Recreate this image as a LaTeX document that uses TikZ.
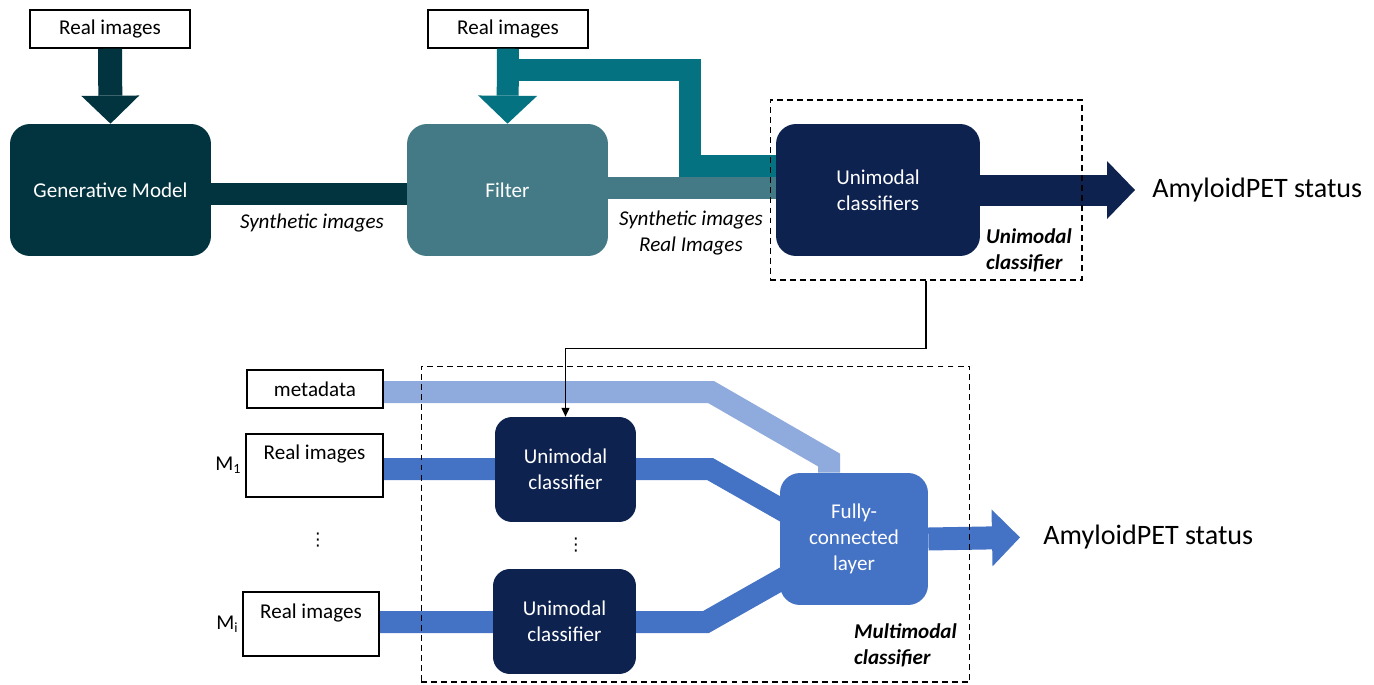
\documentclass[tikz,border=0pt]{standalone}
\usepackage{fontspec}
\setmainfont{Carlito}
\newfontfamily\symfont{DejaVu Sans}
\usetikzlibrary{arrows.meta,backgrounds}
\definecolor{gencol}{RGB}{2,52,64}
\definecolor{filtcol}{RGB}{67,122,134}
\definecolor{tealcol}{RGB}{4,114,128}
\definecolor{navycol}{RGB}{14,34,80}
\definecolor{fccol}{RGB}{68,114,196}
\definecolor{metacol}{RGB}{143,170,220}
\newcommand\labfont{\fontsize{12}{14.7}\selectfont}
\newcommand\bigfont{\fontsize{16}{19}\selectfont}
\tikzset{
  imgbox/.style={draw,line width=0.8pt,fill=white,minimum width=3.2cm,minimum height=0.76cm,inner sep=0pt},
  block/.style={rounded corners=0.4cm,text=white,align=center,minimum width=4.02cm,minimum height=2.64cm,inner sep=0pt},
  smallblock/.style={block,fill=navycol,rounded corners=0.34cm,minimum width=2.82cm,minimum height=2.1cm},
  dashbox/.style={draw,line width=0.6pt,dash pattern=on 3.4pt off 2.3pt,inner sep=0pt},
  bar/.style={line width=0.44cm,line join=miter},
  fat/.style={-{Triangle[width=#1,length=0.56cm,line width=0pt]}},
  vdot/.style={font=\symfont\fontsize{10}{12}\selectfont,inner sep=0pt},
}
\begin{document}
\begin{tikzpicture}[x=0.02cm,y=-0.02cm,font=\labfont]
  \useasboundingbox (0,0) rectangle (1374,684);
  \node[imgbox] (real1) at (110,29) {Real images};
  \node[block,fill=gencol] (gen) at (110.5,190) {Generative Model};
  \node[imgbox] (real2) at (508,29) {Real images};
  \node[block,fill=filtcol] (filter) at (507.5,190) {Filter};
  \node[block,fill=navycol,minimum width=4.08cm] (uni) at (878,190) {Unimodal\\classifiers};
  \node[anchor=west,inner sep=0pt,font=\bigfont] (out1) at (1152,190) {AmyloidPET status};
  \node[font=\labfont\itshape] (syn1) at (312,223) {Synthetic images};
  \node[font=\labfont\itshape,align=center] (syn2) at (691,233) {Synthetic images\\Real Images};
  \node[font=\labfont\bfseries\itshape,align=left,anchor=west] (unilab) at (980,250) {Unimodal\\classifier};
  \coordinate (fork) at (507,70);

  \node[imgbox,minimum width=2.72cm] (meta) at (315,389) {metadata};
  \node[imgbox,minimum width=2.74cm,minimum height=1.26cm,align=center] (m1) at (314.5,465.5) {Real images\\~};
  \node[imgbox,minimum width=2.72cm,minimum height=1.28cm,align=center] (mi) at (311,624) {Real images\\~};
  \node[anchor=east,inner sep=2pt] (m1lab) at (m1.west) {M\textsubscript{1}};
  \node[anchor=east,inner sep=2pt] (milab) at (mi.west) {M\textsubscript{i}};
  \node[vdot] (dots1) at (318,540) {⋮};
  \node[smallblock] (uni1) at (565.5,469.5) {Unimodal\\classifier};
  \node[smallblock,minimum width=2.86cm] (uni2) at (564.5,621.5) {Unimodal\\classifier};
  \node[vdot] (dots2) at (576,545) {⋮};
  \node[block,fill=fccol,minimum width=2.96cm] (fc) at (854,539) {Fully-\\connected\\layer};
  \node[anchor=west,inner sep=0pt,font=\bigfont] (out2) at (1043,537) {AmyloidPET status};
  \node[font=\labfont\bfseries\itshape,align=left,anchor=west] (multilab) at (848,645) {Multimodal\\classifier};

  \begin{scope}[on background layer]
    \draw[bar,gencol] ([yshift=-0.08cm]gen.east) -- ([yshift=-0.08cm]filter.west);
    \draw[bar,filtcol] ([yshift=0.04cm]filter.east) -- ([yshift=0.04cm]uni.west);
    \draw[bar,tealcol] (fork) -| (690,166) -- (uni.west |- 0,166);
    \draw[bar,metacol] (meta.east |- 0,392) -- (711,392) -- (829,460) -- (fc.north -| 829,0);
    \draw[bar,fccol] (m1.east |- 0,469) -- (710,469) -- ([xshift=0.4cm,yshift=0.38cm]fc.west);
    \draw[bar,fccol] (mi.east |- 0,622) -- (706,622) -- ([xshift=0.4cm,yshift=-0.6cm]fc.west);
  \end{scope}

  \draw[fat=1.16cm,line width=0.48cm,gencol] (real1.south) -- (gen.north);
  \draw[fat=1.18cm,line width=0.44cm,tealcol] (real2.south) -- (filter.north);
  \draw[fat=1.16cm,line width=0.62cm,navycol,shorten >=0.34cm] (uni.east) -- (out1.west);
  \draw[fat=1.14cm,line width=0.46cm,fccol,shorten >=0.46cm] (fc.east) -- (out2.west);

  \node[dashbox,minimum width=6.24cm,minimum height=3.6cm] (unibox) at (926,190) {};
  \node[dashbox,minimum width=10.98cm,minimum height=6.32cm] (multibox) at (695.5,524) {};
  \draw[line width=0.75pt,-{Triangle[width=4.5pt,length=5pt]}] (unibox.south) -- ++(0,68) -| (uni1.north);
\end{tikzpicture}
\end{document}
